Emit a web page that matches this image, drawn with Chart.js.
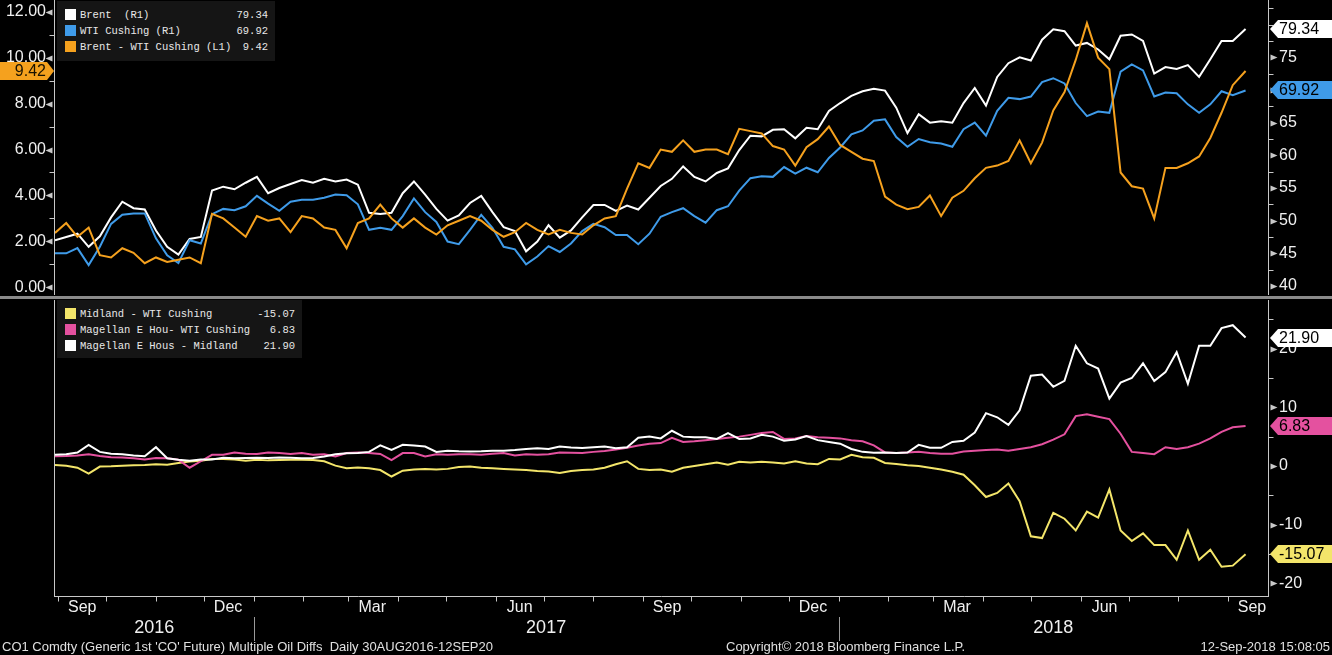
<!DOCTYPE html>
<html><head><meta charset="utf-8">
<script src="https://cdn.jsdelivr.net/npm/chart.js@4.4.1/dist/chart.umd.min.js"></script>
<style>
html,body{margin:0;padding:0;background:#000;}
body{width:1332px;height:655px;position:relative;overflow:hidden;font-family:"Liberation Sans",Arial,sans-serif;}
#c1{position:absolute;left:0;top:0;}
#c2{position:absolute;left:0;top:299px;}
#sep{position:absolute;left:0;top:296px;width:1332px;height:3px;background:#8a8a8a;}
.legend{position:absolute;background:#151515;}
.row{position:absolute;left:0;height:16px;width:100%;font-family:"Liberation Mono","DejaVu Sans Mono",monospace;font-size:10.5px;color:#e8e8e8;white-space:pre;line-height:16px;}
.sw{position:absolute;left:8px;top:2px;width:11px;height:11px;}
.lt{position:absolute;left:23px;top:0;}
.lv{position:absolute;right:7px;top:0;text-align:right;}
.foot{position:absolute;top:639px;font-family:"Liberation Sans Narrow","Liberation Sans",sans-serif;font-size:13px;color:#e0e0e0;white-space:pre;line-height:15px;}
</style></head>
<body>
<canvas id="c1" width="1332" height="296"></canvas>
<div id="sep"></div>
<canvas id="c2" width="1332" height="356"></canvas>
<div id="legTop" class="legend" style="left:57px;top:1px;width:218px;height:60px;"></div>
<div id="legBot" class="legend" style="left:57px;top:300px;width:245px;height:58px;"></div>
<div class="foot" style="left:2px">CO1 Comdty (Generic 1st 'CO' Future) Multiple Oil Diffs  Daily 30AUG2016-12SEP20</div>
<div class="foot" style="left:726px">Copyright© 2018 Bloomberg Finance L.P.</div>
<div class="foot" style="right:2px">12-Sep-2018 15:08:05</div>
<script>
// ---- DATA (days since 30 Aug 2016) ----
const days = [0,7,14,21,28,35,42,49,56,63,70,77,84,91,98,105,112,119,126,133,140,147,154,161,168,175,182,189,196,203,210,217,224,231,238,245,252,259,266,273,280,287,294,301,308,315,322,329,336,343,350,357,364,371,378,385,392,399,406,413,420,427,434,441,448,455,462,469,476,483,490,497,504,511,518,525,532,539,546,553,560,567,574,581,588,595,602,609,616,623,630,637,644,651,658,665,672,679,686,693,700,707,714,721,728,735,743];

const brent = [47.0,47.5,48.0,46.0,47.6,50.5,52.9,51.9,51.7,48.5,
 46.0,44.8,47.2,47.5,54.6,55.2,54.8,55.8,56.7,54.2,
 55.0,55.6,56.2,55.8,56.4,56.0,56.3,55.5,51.2,51.0,
 51.2,54.2,56.0,54.0,51.8,50.0,50.8,52.7,53.8,51.3,
 49.0,48.4,45.3,46.8,49.3,47.4,48.5,50.5,52.4,52.4,
 51.5,52.3,51.7,53.5,55.3,56.4,58.3,56.7,56.0,57.3,
 58.0,60.8,63.0,62.9,63.9,64.0,62.6,64.2,64.0,66.8,
 68.0,69.1,69.8,70.2,69.9,67.3,63.4,66.3,65.0,65.2,
 65.0,68.0,70.3,67.6,72.0,74.1,75.0,74.5,77.7,79.3,
 79.0,76.8,77.2,76.2,74.7,78.3,78.5,77.5,72.5,73.5,
 73.2,73.8,72.0,74.7,77.5,77.5,79.34];

const wti = [45.0,45.0,45.8,43.2,46.0,49.5,50.9,51.1,51.1,47.3,
 44.7,43.5,47.0,46.5,51.0,51.8,51.6,52.2,53.8,52.6,
 51.5,52.9,53.2,53.2,53.5,54.0,53.9,52.5,48.6,48.9,
 48.6,50.7,53.4,51.3,49.8,46.8,46.4,48.6,50.9,48.9,
 46.0,45.6,43.3,44.5,46.1,45.2,46.5,48.4,49.5,49.0,
 47.8,47.8,46.4,48.0,50.6,51.3,51.9,50.7,49.7,51.6,
 52.2,54.6,56.5,56.8,56.7,58.2,57.2,58.1,57.4,59.6,
 61.2,63.2,63.8,65.3,65.5,62.8,61.3,62.5,62.0,61.8,
 61.3,64.0,65.0,63.0,66.8,68.8,68.6,69.0,71.2,71.8,
 71.0,68.0,66.0,66.7,66.5,72.8,73.9,73.0,69.0,69.6,
 69.5,67.8,66.5,67.8,69.8,69.2,69.92];

const brentWti = [2.37,2.8,2.2,2.6,1.4,1.3,1.7,1.5,1.05,1.3,
 1.1,1.2,1.3,1.05,3.2,3.0,2.6,2.2,3.1,2.9,
 3.0,2.4,3.1,3.0,2.6,2.5,1.7,2.8,3.0,3.6,
 3.0,2.6,3.0,2.6,2.3,2.7,2.9,3.1,2.9,2.5,
 2.2,2.4,2.8,2.5,2.3,2.5,2.37,2.3,2.7,3.0,
 3.1,4.3,5.4,5.2,6.0,5.9,6.4,5.9,6.0,6.0,
 5.8,6.9,6.8,6.7,6.15,6.0,5.3,6.1,6.45,7.0,
 6.2,5.9,5.6,5.5,3.95,3.6,3.4,3.5,4.0,3.1,
 3.9,4.2,4.75,5.2,5.3,5.5,6.4,5.4,6.3,7.7,
 8.5,9.9,11.5,10.0,9.5,5.0,4.4,4.3,3.0,5.2,
 5.2,5.4,5.7,6.5,7.6,8.8,9.42];

const midlandWti = [0.17,0.05,-0.3,-1.3,-0.1,-0.05,0.05,0.1,0.17,0.3,
 0.2,0.5,0.74,0.9,1.2,1.2,1.1,0.9,1.05,0.95,
 1.0,1.05,1.05,1.0,0.8,0.05,-0.4,-0.25,-0.4,-0.7,
 -1.8,-0.8,-0.6,-0.5,-0.6,-0.5,-0.2,-0.1,-0.3,-0.4,
 -0.5,-0.6,-0.7,-0.85,-0.95,-1.2,-0.85,-0.7,-0.6,-0.3,
 0.3,0.8,-0.5,-0.7,-0.6,-1.0,-0.3,0.0,0.3,0.6,
 0.2,0.7,0.6,0.7,0.6,0.4,0.8,0.4,0.3,1.2,
 1.1,1.9,1.5,1.4,0.5,0.35,0.1,0.0,-0.3,-0.6,
 -1.0,-1.5,-3.3,-5.3,-4.6,-3.0,-6.0,-12.0,-12.3,-8.0,
 -9.0,-11.0,-7.8,-8.8,-4.0,-11.0,-12.8,-11.5,-13.5,-13.5,
 -16.0,-11.0,-16.0,-14.3,-17.2,-17.0,-15.07];

const magellanWti = [1.65,1.7,1.8,2.0,1.7,1.5,1.45,1.3,1.1,1.35,
 1.3,1.05,-0.3,0.8,1.9,1.9,2.3,2.1,2.05,2.3,
 2.2,2.05,2.2,1.9,2.0,1.6,2.2,2.3,2.2,2.05,
 1.0,2.2,2.2,1.6,2.0,1.9,2.0,2.0,1.9,2.1,
 2.2,1.8,2.0,1.9,2.0,2.3,2.25,2.2,2.4,2.55,
 2.8,3.1,3.5,3.8,3.9,4.8,4.1,4.2,4.4,4.6,
 4.8,5.0,5.3,5.6,5.8,4.6,4.7,5.1,4.9,4.8,
 4.7,4.4,4.2,3.5,2.3,2.2,2.3,2.4,2.2,2.1,
 2.1,2.45,2.6,2.7,2.8,2.6,2.9,3.2,3.7,4.5,
 5.4,8.5,8.8,8.4,8.0,5.5,2.4,2.2,2.0,3.2,
 2.9,3.2,3.8,4.7,5.8,6.6,6.83];

const magellanMidland = [1.9,2.0,2.3,3.6,2.4,2.1,2.0,1.8,1.65,3.2,
 1.3,1.05,0.9,1.1,1.1,1.4,1.3,1.37,1.4,1.35,
 1.45,1.4,1.3,1.35,1.6,2.0,2.15,2.2,2.4,3.5,
 2.75,3.6,3.5,3.3,2.4,2.6,2.5,2.45,2.5,2.6,
 2.6,2.7,2.9,3.0,2.9,3.3,3.15,3.05,3.2,3.3,
 3.0,3.2,4.8,5.0,4.7,6.0,5.0,4.9,4.9,4.6,
 5.6,4.6,4.7,5.3,5.0,4.3,4.5,5.1,4.4,4.1,
 3.8,2.9,2.4,2.25,2.3,2.2,2.3,3.6,3.1,3.1,
 4.1,4.3,5.7,9.0,8.3,7.0,9.5,15.4,15.6,13.5,
 14.5,20.5,17.5,16.6,11.5,14.2,15.0,17.5,14.5,16.0,
 19.4,14.0,20.5,20.5,23.5,24.0,21.9];

const topNames = ['Brent  (R1)', 'WTI Cushing (R1)', 'Brent - WTI Cushing (L1)'];
const botNames = ['Midland - WTI Cushing', 'Magellan E Hou- WTI Cushing', 'Magellan E Hous - Midland'];

// axis ticks
const leftTicks = [0,1,2,3,4,5,6,7,8,9,10,11,12];
const rightTopTicks = [40,42.5,45,47.5,50,52.5,55,57.5,60,62.5,65,67.5,70,72.5,75,77.5,80,82.5];
const rightBotTicks = [-20,-15,-10,-5,0,5,10,15,20,25];
const monthStarts = [2,32,63,93,124,155,183,214,244,275,305,336,367,397,428,458,489,520,548,579,609,640,670,701,732];
const labelDays = [17,108,198,290,382,473,563,655,747];
const labelNames = ['Sep','Dec','Mar','Jun','Sep','Dec','Mar','Jun','Sep'];
const yearNames = ['2016','2017','2018'];
const yearStarts = [-300,124,489];
const yearEnds = [124,489,900];

// ---- STYLE ----
const C_WHITE = '#ffffff', C_BLUE = '#3f9be9', C_ORANGE = '#f5a11e', C_YELLOW = '#f3e56a', C_PINK = '#e4519f';
const AXIS = '#c8c8c8', TXT = '#f0f0f0';
const FONT = "'Liberation Sans', Arial, sans-serif";
const last = a => a[a.length - 1];
const pts = arr => days.map((d, i) => ({x: d, y: arr[i]}));

const decor = {
  id: 'decor',
  afterDraw(chart, args, opts) {
    const ctx = chart.ctx, ca = chart.chartArea;
    ctx.save();
    ctx.strokeStyle = AXIS; ctx.fillStyle = AXIS; ctx.lineWidth = 1;
    if (opts.leftBorder) {
      ctx.beginPath(); ctx.moveTo(Math.round(ca.left) - 0.5, ca.top); ctx.lineTo(Math.round(ca.left) - 0.5, ca.bottom); ctx.stroke();
    }
    Object.values(chart.scales).forEach(s => {
      if (!s.options.display) return;
      if (s.axis === 'y') {
        const left = s.position === 'left';
        const x0 = left ? Math.round(s.right) - 0.5 : Math.round(s.left) + 0.5;
        const d = left ? -1 : 1;
        ctx.strokeStyle = AXIS; ctx.fillStyle = AXIS;
        ctx.beginPath(); ctx.moveTo(x0, ca.top); ctx.lineTo(x0, ca.bottom); ctx.stroke();
        s.ticks.forEach(t => {
          const y = Math.round(s.getPixelForValue(t.value)) + 0.5;
          if (y < ca.top || y > ca.bottom) return;
          if (t.label) {
            ctx.beginPath(); ctx.moveTo(x0 + d * 9, y); ctx.lineTo(x0 + d * 2, y - 3); ctx.lineTo(x0 + d * 2, y + 3); ctx.closePath(); ctx.fill();
          } else {
            ctx.beginPath(); ctx.moveTo(x0, y); ctx.lineTo(x0 + d * 5, y); ctx.stroke();
          }
        });
      } else {
        const y0 = Math.round(s.top) - 0.5;
        ctx.beginPath(); ctx.moveTo(ca.left, y0); ctx.lineTo(ca.right, y0); ctx.stroke();
        s.ticks.forEach(t => {
          if (t.label) return;
          const x = Math.round(s.getPixelForValue(t.value)) + 0.5;
          ctx.beginPath(); ctx.moveTo(x, y0); ctx.lineTo(x, y0 + 5); ctx.stroke();
        });
        if (opts.years) {
          const ys = opts.years;
          ctx.font = '18px ' + FONT; ctx.fillStyle = TXT; ctx.textAlign = 'center'; ctx.textBaseline = 'middle';
          ys.names.forEach((n, i) => {
            const a = Math.max(ys.starts[i], s.min), b = Math.min(ys.ends[i], s.max);
            const xc = (s.getPixelForValue(a) + s.getPixelForValue(b)) / 2;
            ctx.fillText(n, xc, s.top + 31);
            if (ys.starts[i] > s.min) {
              const xs = Math.round(s.getPixelForValue(ys.starts[i])) + 0.5;
              ctx.strokeStyle = '#9a9a9a';
              ctx.beginPath(); ctx.moveTo(xs, s.top + 20); ctx.lineTo(xs, s.top + 44); ctx.stroke();
            }
          });
        }
      }
    });
    (opts.tags || []).forEach(tg => {
      const s = chart.scales[tg.scale];
      const y = Math.round(s.getPixelForValue(tg.value));
      const h = 9;
      ctx.fillStyle = tg.color;
      ctx.beginPath();
      if (tg.side === 'left') {
        const tip = Math.round(s.right) - 1;
        ctx.moveTo(0, y - h); ctx.lineTo(tip - 7, y - h); ctx.lineTo(tip, y); ctx.lineTo(tip - 7, y + h); ctx.lineTo(0, y + h);
      } else {
        const tip = Math.round(s.left) + 2;
        ctx.moveTo(tip, y); ctx.lineTo(tip + 8, y - h); ctx.lineTo(chart.width, y - h); ctx.lineTo(chart.width, y + h); ctx.lineTo(tip + 8, y + h);
      }
      ctx.closePath(); ctx.fill();
      ctx.fillStyle = tg.text || '#000';
      ctx.font = '16px ' + FONT; ctx.textBaseline = 'middle';
      if (tg.side === 'left') { ctx.textAlign = 'right'; ctx.fillText(tg.value.toFixed(2), Math.round(s.right) - 9, y + 1); }
      else { ctx.textAlign = 'left'; ctx.fillText(tg.value.toFixed(2), Math.round(s.left) + 11, y + 1); }
    });
    ctx.restore();
  }
};

const fixW = w => s => { s.width = w; s.paddingTop = 0; s.paddingBottom = 0; };
const setT = arr => s => { s.ticks = arr.map(v => ({value: v})); };
const tickOpts = (cb, pad) => ({autoSkip: false, color: TXT, font: {family: FONT, size: 16}, padding: pad, callback: cb});

const baseOpts = {
  responsive: false, animation: false, devicePixelRatio: 1,
  elements: {point: {radius: 0}, line: {borderWidth: 2, tension: 0}},
};

new Chart(document.getElementById('c1'), {
  type: 'line',
  data: {datasets: [
    {label: topNames[0], data: pts(brent), yAxisID: 'yR', borderColor: C_WHITE, order: 3},
    {label: topNames[1], data: pts(wti), yAxisID: 'yR', borderColor: C_BLUE, order: 2},
    {label: topNames[2], data: pts(brentWti), yAxisID: 'yL', borderColor: C_ORANGE, order: 1}
  ]},
  options: Object.assign({}, baseOpts, {
    layout: {padding: {top: 0, bottom: 1, left: 0, right: 0}},
    plugins: {legend: {display: false}, tooltip: {enabled: false},
      decor: {tags: [
        {scale: 'yL', value: last(brentWti), color: C_ORANGE, side: 'left', text: '#1a1200'},
        {scale: 'yR', value: last(brent), color: C_WHITE, side: 'right'},
        {scale: 'yR', value: last(wti), color: C_BLUE, side: 'right'}
      ]}},
    scales: {
      x: {type: 'linear', min: 0, max: 757, display: false},
      yL: {type: 'linear', position: 'left', min: -0.335, max: 12.51, afterBuildTicks: setT(leftTicks), afterFit: fixW(55),
        grid: {display: false, drawTicks: false}, border: {display: false},
        ticks: tickOpts(v => (v % 2 === 0 ? v.toFixed(2) : ''), 9)},
      yR: {type: 'linear', position: 'right', min: 38.62, max: 83.77, afterBuildTicks: setT(rightTopTicks), afterFit: fixW(64),
        grid: {display: false, drawTicks: false}, border: {display: false},
        ticks: tickOpts(v => (v % 5 === 0 && v < 80 ? String(v) : ''), 11)}
    }
  }),
  plugins: [decor]
});

const lblMap = {}; labelDays.forEach((d, i) => { lblMap[d] = labelNames[i]; });
const xTicks = monthStarts.concat(labelDays).sort((a, b) => a - b);

new Chart(document.getElementById('c2'), {
  type: 'line',
  data: {datasets: [
    {label: botNames[0], data: pts(midlandWti), yAxisID: 'yB', borderColor: C_YELLOW, order: 3},
    {label: botNames[1], data: pts(magellanWti), yAxisID: 'yB', borderColor: C_PINK, order: 2},
    {label: botNames[2], data: pts(magellanMidland), yAxisID: 'yB', borderColor: C_WHITE, order: 1}
  ]},
  options: Object.assign({}, baseOpts, {
    layout: {padding: {top: 1, bottom: 0, left: 55, right: 0}},
    plugins: {legend: {display: false}, tooltip: {enabled: false},
      decor: {leftBorder: true,
        years: {names: yearNames, starts: yearStarts, ends: yearEnds},
        tags: [
          {scale: 'yB', value: last(magellanMidland), color: C_WHITE, side: 'right'},
          {scale: 'yB', value: last(magellanWti), color: C_PINK, side: 'right'},
          {scale: 'yB', value: last(midlandWti), color: C_YELLOW, side: 'right'}
        ]}},
    scales: {
      x: {type: 'linear', position: 'bottom', min: 0, max: 757, afterBuildTicks: setT(xTicks),
        afterFit: s => { s.height = 58; s.paddingLeft = 0; s.paddingRight = 0; },
        grid: {display: false, drawTicks: false}, border: {display: false},
        ticks: Object.assign(tickOpts(v => lblMap[v] || '', 1), {maxRotation: 0, minRotation: 0})},
      yB: {type: 'linear', position: 'right', min: -22.35, max: 28.3, afterBuildTicks: setT(rightBotTicks), afterFit: fixW(64),
        grid: {display: false, drawTicks: false}, border: {display: false},
        ticks: tickOpts(v => (v % 10 === 0 ? String(v) : ''), 11)}
    }
  }),
  plugins: [decor]
});

function buildLegend(id, names, colors, values) {
  const box = document.getElementById(id);
  names.forEach((n, i) => {
    const row = document.createElement('div'); row.className = 'row'; row.style.top = (6 + 16 * i) + 'px';
    const sw = document.createElement('div'); sw.className = 'sw'; sw.style.background = colors[i];
    const t = document.createElement('span'); t.className = 'lt'; t.textContent = n;
    const v = document.createElement('span'); v.className = 'lv'; v.textContent = values[i].toFixed(2);
    row.appendChild(sw); row.appendChild(t); row.appendChild(v); box.appendChild(row);
  });
}
buildLegend('legTop', topNames, [C_WHITE, C_BLUE, C_ORANGE], [last(brent), last(wti), last(brentWti)]);
buildLegend('legBot', botNames, [C_YELLOW, C_PINK, C_WHITE], [last(midlandWti), last(magellanWti), last(magellanMidland)]);
</script>
</body></html>
